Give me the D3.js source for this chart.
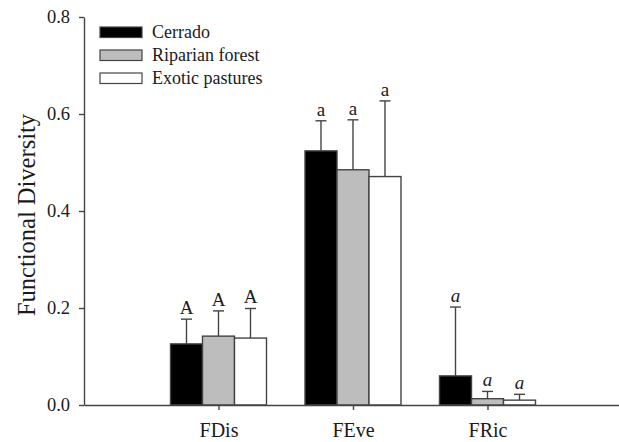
<!DOCTYPE html>
<html>
<head>
<meta charset="utf-8">
<script src="https://cdn.jsdelivr.net/npm/d3@7"></script>
<style>
  html, body { margin: 0; padding: 0; background: #fff; }
  svg { display: block; }
  svg text { font-family: "Liberation Serif", "DejaVu Serif", serif !important; }
</style>
</head>
<body>
<svg id="chart" width="619" height="442"></svg>
<script>
// --- data ---
const categories = ['FDis', 'FEve', 'FRic'];
const series = ['Cerrado', 'Riparian forest', 'Exotic pastures'];
const seriesFill = ['#000000', '#bdbdbd', '#ffffff'];

// mean values per category, one array per series
const cerrado  = [0.126, 0.524, 0.060];
const riparian = [0.142, 0.485, 0.013];
const pastures = [0.138, 0.471, 0.010];
// upper end of the error bars
const cerradoErr  = [0.177, 0.586, 0.202];
const riparianErr = [0.194, 0.588, 0.028];
const pasturesErr = [0.199, 0.627, 0.022];
// significance letters
const letters = [['A', 'A', 'A'], ['a', 'a', 'a'], ['a', 'a', 'a']];
const letterItalic = [false, false, true];

const yTicks = [0, 0.2, 0.4, 0.6, 0.8];

const means = [cerrado, riparian, pastures];
const errs = [cerradoErr, riparianErr, pasturesErr];

const svg = d3.select('#chart');

// scales
const y = d3.scaleLinear().domain([0, 0.8]).range([405, 17]);
const x = d3.scaleLinear().domain([0, 4]).range([84, 622]);
const inner = d3.scaleBand().domain(series).range([-48, 48]).padding(0);

const axisColor = '#444';
const textColor = '#1a1a1a';

// bars
const groups = svg.selectAll('g.cat')
  .data(categories)
  .join('g')
  .attr('class', 'cat')
  .attr('transform', (d, i) => `translate(${x(i + 1)},0)`);

groups.each(function(cat, ci) {
  const g = d3.select(this);
  series.forEach((s, si) => {
    const v = means[si][ci];
    const e = errs[si][ci];
    const bx = inner(s);
    const cx = bx + inner.bandwidth() / 2;

    // error bar (upper only)
    g.append('line')
      .attr('x1', cx).attr('x2', cx)
      .attr('y1', y(v)).attr('y2', y(e))
      .attr('stroke', axisColor).attr('stroke-width', 1.4);
    g.append('line')
      .attr('x1', cx - 5.5).attr('x2', cx + 5.5)
      .attr('y1', y(e)).attr('y2', y(e))
      .attr('stroke', axisColor).attr('stroke-width', 1.4);

    g.append('rect')
      .attr('x', bx)
      .attr('y', y(v))
      .attr('width', inner.bandwidth())
      .attr('height', y(0) - y(v))
      .attr('fill', seriesFill[si])
      .attr('stroke', axisColor)
      .attr('stroke-width', 1.4);

    g.append('text')
      .attr('x', cx)
      .attr('y', y(e) - 5)
      .attr('text-anchor', 'middle')
      .attr('font-size', '19px')
      .attr('font-style', letterItalic[ci] ? 'italic' : 'normal')
      .attr('fill', textColor)
      .text(letters[ci][si]);
  });
});

// y axis
const yAxis = svg.append('g')
  .attr('transform', 'translate(84,0)')
  .call(d3.axisLeft(y).tickValues(yTicks).tickFormat(d3.format('.1f')).tickSize(5).tickSizeOuter(0).tickPadding(9));
yAxis.select('.domain').attr('stroke', axisColor).attr('stroke-width', 1.4);
yAxis.selectAll('.tick line').attr('stroke', axisColor).attr('stroke-width', 1.4);
yAxis.selectAll('.tick text')
  .attr('font-size', '18.5px')
  .attr('fill', textColor);

// x axis
const xAxis = svg.append('g')
  .attr('transform', `translate(0,${y(0)})`)
  .call(d3.axisBottom(x).tickValues([1, 2, 3]).tickFormat(i => categories[i - 1]).tickSize(5).tickSizeOuter(0).tickPadding(13));
xAxis.select('.domain').attr('stroke', axisColor).attr('stroke-width', 1.4);
xAxis.selectAll('.tick line').attr('stroke', axisColor).attr('stroke-width', 1.4);
xAxis.selectAll('.tick text')
  .attr('font-size', '20px')
  .attr('fill', textColor);

// y label
svg.append('text')
  .attr('transform', 'translate(35,215) rotate(-90)')
  .attr('text-anchor', 'middle')
  .attr('font-size', '24.5px')
  .attr('fill', textColor)
  .text('Functional Diversity');

// legend
const legend = svg.append('g').attr('transform', 'translate(100,27)');
series.forEach((s, i) => {
  const row = legend.append('g').attr('transform', `translate(0,${i * 23})`);
  row.append('rect')
    .attr('x', 0).attr('y', 0)
    .attr('width', 42).attr('height', 10.5)
    .attr('fill', seriesFill[i])
    .attr('stroke', axisColor)
    .attr('stroke-width', 1.2);
  row.append('text')
    .attr('x', 52).attr('y', 10.5)
    .attr('font-size', '18px')
    .attr('fill', textColor)
    .text(s);
});
</script>
</body>
</html>
